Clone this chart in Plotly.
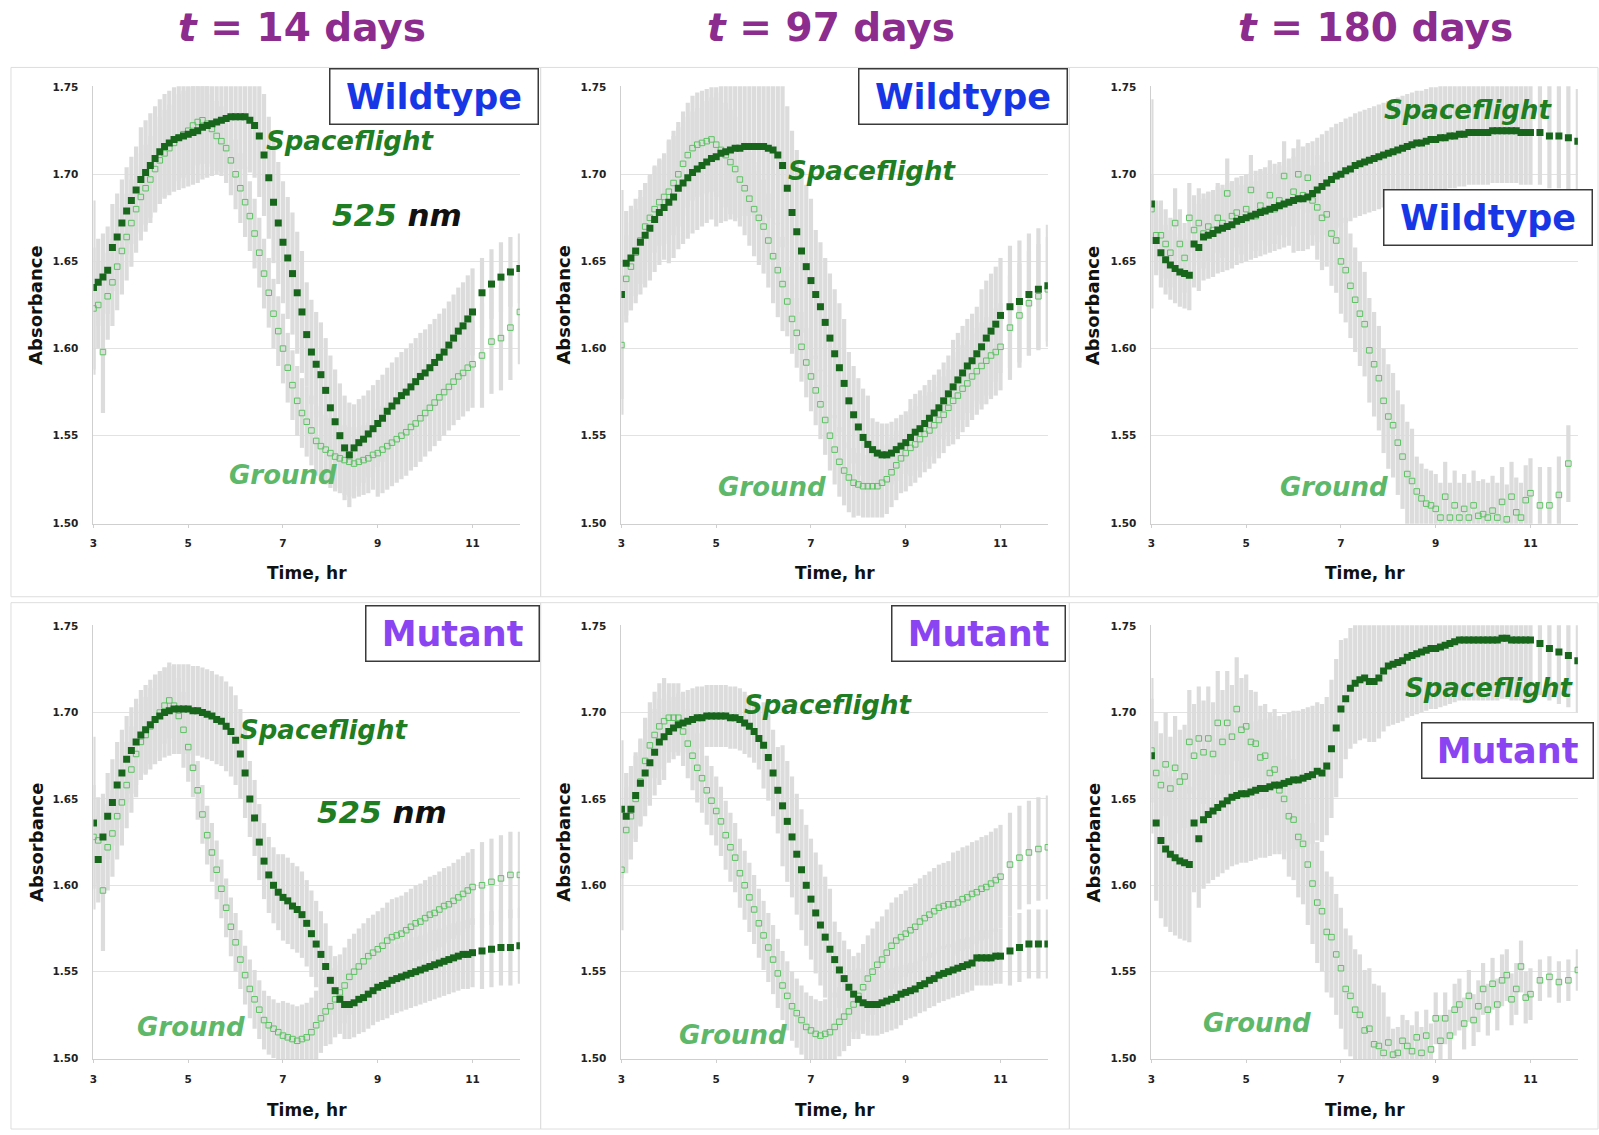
import plotly.graph_objects as go

# ---------------- data ----------------
TIME = [3.0, 3.1, 3.2, 3.3, 3.4, 3.5, 3.6, 3.7, 3.8, 3.9,
        4.0, 4.1, 4.2, 4.3, 4.4, 4.5, 4.6, 4.7, 4.8, 4.9,
        5.0, 5.1, 5.2, 5.3, 5.4, 5.5, 5.6, 5.7, 5.8, 5.9,
        6.0, 6.1, 6.2, 6.3, 6.4, 6.5, 6.6, 6.7, 6.8, 6.9,
        7.0, 7.1, 7.2, 7.3, 7.4, 7.5, 7.6, 7.7, 7.8, 7.9,
        8.0, 8.1, 8.2, 8.3, 8.4, 8.5, 8.6, 8.7, 8.8, 8.9,
        9.0, 9.1, 9.2, 9.3, 9.4, 9.5, 9.6, 9.7, 9.8, 9.9,
        10.0, 10.1, 10.2, 10.3, 10.4, 10.5, 10.6, 10.7, 10.8, 10.9,
        11.0, 11.2, 11.4, 11.6, 11.8, 12.0]

X_TICKS = [3, 5, 7, 9, 11]
Y_TICKS = [1.50, 1.55, 1.60, 1.65, 1.70, 1.75]
Y_TICKTEXT = ["1.50", "1.55", "1.60", "1.65", "1.70", "1.75"]
COLUMN_TITLES = ["14", "97", "180"]
STRAINS = ["Wildtype", "Wildtype", "Wildtype", "Mutant", "Mutant", "Mutant"]

# Panel 1: t = 14 days, Wildtype
WT14_FLIGHT = [1.635, 1.638, 1.641, 1.645, 1.658, 1.664, 1.672, 1.679, 1.685, 1.691,
               1.697, 1.701, 1.705, 1.709, 1.713, 1.716, 1.718, 1.720, 1.721, 1.722,
               1.723, 1.724, 1.725, 1.727, 1.728, 1.729, 1.730, 1.731, 1.732, 1.733,
               1.733, 1.733, 1.733, 1.731, 1.728, 1.722, 1.711, 1.698, 1.684, 1.672,
               1.661, 1.652, 1.643, 1.632, 1.621, 1.608, 1.598, 1.591, 1.585, 1.576,
               1.566, 1.558, 1.550, 1.543, 1.539, 1.543, 1.546, 1.548, 1.551, 1.554,
               1.557, 1.560, 1.564, 1.567, 1.570, 1.573, 1.575, 1.578, 1.581, 1.584,
               1.586, 1.589, 1.592, 1.595, 1.598, 1.602, 1.606, 1.610, 1.613, 1.617,
               1.621, 1.632, 1.637, 1.641, 1.644, 1.646]
WT14_FLIGHT_ERR = [.05, .025, .025, .025, .025, .025, .025, .025, .025, .025,
                   .03, .03, .03, .03, .03, .03, .03, .03, .03, .03,
                   .03, .03, .03, .03, .03, .03, .03, .03, .03, .03,
                   .03, .03, .03, .03, .03, .035, .035, .035, .035, .035,
                   .035, .035, .035, .035, .035, .03, .03, .03, .03, .03,
                   .03, .03, .03, .03, .03, .025, .025, .025, .025, .025,
                   .025, .025, .025, .025, .025, .025, .025, .025, .025, .025,
                   .025, .025, .025, .025, .025, .025, .025, .025, .025, .025,
                   .025, .02, .02, .02, .02, .02]
WT14_GROUND = [1.623, 1.625, 1.598, 1.630, 1.638, 1.647, 1.656, 1.664, 1.672, 1.680,
               1.687, 1.692, 1.697, 1.703, 1.708, 1.712, 1.715, 1.718, 1.721, 1.723,
               1.725, 1.728, 1.730, 1.731, 1.729, 1.726, 1.722, 1.719, 1.715, 1.708,
               1.700, 1.692, 1.684, 1.676, 1.666, 1.655, 1.643, 1.632, 1.620, 1.610,
               1.600, 1.589, 1.579, 1.570, 1.563, 1.558, 1.553, 1.547, 1.544, 1.542,
               1.540, 1.538, 1.537, 1.536, 1.535, 1.534, 1.535, 1.536, 1.537, 1.539,
               1.540, 1.542, 1.544, 1.546, 1.548, 1.550, 1.552, 1.555, 1.557, 1.560,
               1.563, 1.566, 1.569, 1.572, 1.575, 1.578, 1.581, 1.584, 1.586, 1.589,
               1.591, 1.596, 1.604, 1.606, 1.612, 1.621]
WT14_GROUND_ERR = [.035, .025, .035, .025, .025, .025, .025, .025, .025, .025,
                   .025, .025, .025, .025, .025, .025, .025, .025, .025, .025,
                   .025, .025, .025, .025, .025, .02, .02, .02, .02, .02,
                   .02, .02, .02, .02, .02, .02, .02, .02, .02, .02,
                   .02, .02, .02, .02, .02, .02, .02, .02, .02, .02,
                   .02, .02, .02, .02, .02, .02, .02, .02, .02, .02,
                   .025, .025, .025, .025, .025, .025, .025, .025, .025, .025,
                   .025, .025, .025, .025, .025, .025, .025, .025, .025, .025,
                   .025, .03, .03, .03, .03, .03]

# Panel 2: t = 97 days, Wildtype
WT97_FLIGHT = [1.631, 1.649, 1.652, 1.656, 1.661, 1.665, 1.669, 1.674, 1.678, 1.681,
               1.684, 1.687, 1.692, 1.695, 1.698, 1.701, 1.703, 1.705, 1.707, 1.709,
               1.710, 1.712, 1.713, 1.714, 1.715, 1.715, 1.716, 1.716, 1.716, 1.716,
               1.716, 1.715, 1.714, 1.711, 1.705, 1.692, 1.678, 1.667, 1.656, 1.647,
               1.639, 1.631, 1.624, 1.615, 1.606, 1.597, 1.589, 1.580, 1.570, 1.562,
               1.555, 1.549, 1.545, 1.542, 1.540, 1.539, 1.539, 1.540, 1.542, 1.544,
               1.546, 1.549, 1.552, 1.554, 1.557, 1.560, 1.563, 1.566, 1.570, 1.574,
               1.578, 1.582, 1.586, 1.590, 1.593, 1.597, 1.601, 1.606, 1.610, 1.614,
               1.619, 1.624, 1.627, 1.631, 1.634, 1.636]
WT97_FLIGHT_ERR = [.06, .03, .03, .03, .03, .03, .03, .03, .03, .03,
                   .035, .035, .035, .035, .035, .035, .035, .035, .035, .035,
                   .04, .04, .04, .04, .04, .04, .04, .04, .04, .04,
                   .04, .04, .04, .04, .047, .047, .047, .047, .047, .047,
                   .047, .037, .037, .037, .037, .037, .037, .037, .028, .028,
                   .028, .028, .028, .018, .018, .018, .018, .018, .018, .018,
                   .018, .022, .022, .022, .022, .022, .022, .022, .022, .022,
                   .027, .027, .027, .027, .027, .027, .033, .033, .033, .033,
                   .033, .035, .035, .035, .035, .035]
WT97_GROUND = [1.602, 1.640, 1.647, 1.655, 1.662, 1.670, 1.675, 1.680, 1.684, 1.687,
               1.690, 1.695, 1.700, 1.706, 1.711, 1.715, 1.717, 1.718, 1.719, 1.720,
               1.717, 1.714, 1.711, 1.707, 1.703, 1.697, 1.692, 1.686, 1.680, 1.675,
               1.670, 1.662, 1.653, 1.645, 1.637, 1.627, 1.617, 1.609, 1.601, 1.592,
               1.584, 1.576, 1.568, 1.559, 1.550, 1.542, 1.535, 1.530, 1.526, 1.523,
               1.522, 1.521, 1.521, 1.521, 1.521, 1.523, 1.525, 1.529, 1.533, 1.537,
               1.540, 1.543, 1.545, 1.548, 1.551, 1.553, 1.556, 1.559, 1.562, 1.566,
               1.570, 1.573, 1.577, 1.580, 1.584, 1.587, 1.590, 1.593, 1.596, 1.598,
               1.601, 1.612, 1.619, 1.626, 1.630, 1.634]
WT97_GROUND_ERR = [.04, .025, .025, .025, .025, .025, .025, .025, .025, .025,
                   .03, .03, .03, .03, .03, .03, .03, .03, .03, .03,
                   .03, .03, .03, .03, .03, .027, .027, .027, .027, .027,
                   .027, .027, .027, .027, .027, .02, .02, .02, .02, .02,
                   .02, .02, .02, .02, .02, .02, .02, .02, .02, .02,
                   .018, .018, .018, .018, .018, .02, .02, .02, .02, .02,
                   .022, .022, .022, .022, .022, .022, .022, .022, .022, .022,
                   .025, .025, .025, .025, .025, .025, .025, .025, .025, .025,
                   .025, .03, .03, .03, .03, .03]

# Panel 3: t = 180 days, Wildtype
WT180_FLIGHT = [1.683, 1.662, 1.655, 1.651, 1.648, 1.646, 1.644, 1.643, 1.642, 1.660,
                1.658, 1.664, 1.665, 1.666, 1.668, 1.669, 1.670, 1.671, 1.673, 1.674,
                1.675, 1.676, 1.677, 1.678, 1.679, 1.680, 1.681, 1.682, 1.683, 1.684,
                1.685, 1.686, 1.686, 1.687, 1.689, 1.691, 1.693, 1.695, 1.697, 1.699,
                1.700, 1.702, 1.703, 1.705, 1.706, 1.707, 1.708, 1.709, 1.710, 1.711,
                1.712, 1.713, 1.714, 1.715, 1.716, 1.717, 1.718, 1.718, 1.719, 1.720,
                1.720, 1.721, 1.721, 1.722, 1.722, 1.723, 1.723, 1.724, 1.724, 1.724,
                1.724, 1.724, 1.725, 1.725, 1.725, 1.725, 1.725, 1.725, 1.724, 1.724,
                1.724, 1.724, 1.722, 1.722, 1.721, 1.719]
WT180_FLIGHT_ERR = [.06, .02, .02, .02, .02, .02, .02, .02, .02, .025,
                    .025, .025, .025, .025, .025, .025, .025, .025, .025, .025,
                    .025, .025, .025, .025, .025, .025, .025, .025, .025, .025,
                    .03, .03, .03, .03, .03, .03, .03, .03, .03, .03,
                    .03, .03, .03, .03, .03, .03, .03, .03, .03, .03,
                    .03, .03, .03, .03, .03, .03, .03, .03, .03, .03,
                    .03, .03, .03, .03, .03, .03, .03, .03, .03, .03,
                    .03, .03, .03, .03, .03, .03, .03, .03, .03, .03,
                    .03, .03, .03, .03, .03, .03]
WT180_GROUND = [1.680, 1.665, 1.665, 1.660, 1.655, 1.672, 1.660, 1.652, 1.675, 1.668,
                1.672, 1.666, 1.670, 1.668, 1.675, 1.672, 1.689, 1.676, 1.678, 1.674,
                1.680, 1.691, 1.676, 1.682, 1.679, 1.688, 1.680, 1.685, 1.699, 1.684,
                1.690, 1.700, 1.688, 1.698, 1.685, 1.681, 1.675, 1.677, 1.666, 1.662,
                1.650, 1.645, 1.636, 1.628, 1.620, 1.614, 1.599, 1.591, 1.583, 1.570,
                1.561, 1.556, 1.546, 1.538, 1.528, 1.524, 1.518, 1.514, 1.511, 1.510,
                1.508, 1.503, 1.515, 1.503, 1.510, 1.503, 1.508, 1.503, 1.510, 1.504,
                1.505, 1.503, 1.507, 1.503, 1.512, 1.502, 1.515, 1.506, 1.503, 1.513,
                1.517, 1.510, 1.510, 1.516, 1.534, None]
WT180_GROUND_ERR = [.02, .02, .02, .02, .02, .02, .02, .02, .02, .02,
                    .02, .02, .02, .02, .02, .02, .02, .02, .02, .02,
                    .02, .02, .02, .02, .02, .02, .02, .02, .02, .02,
                    .02, .02, .02, .02, .02, .03, .03, .03, .03, .03,
                    .03, .03, .03, .03, .03, .03, .03, .03, .03, .03,
                    .03, .03, .03, .03, .03, .03, .02, .02, .02, .02,
                    .02, .02, .02, .02, .02, .02, .02, .02, .02, .02,
                    .02, .02, .02, .02, .02, .02, .02, .02, .02, .02,
                    .02, .022, .022, .022, .022, .022]

# Panel 4: t = 14 days, Mutant
MU14_FLIGHT = [1.636, 1.615, 1.628, 1.640, 1.648, 1.658, 1.665, 1.673, 1.678, 1.683,
               1.687, 1.690, 1.693, 1.696, 1.698, 1.700, 1.701, 1.702, 1.702, 1.702,
               1.702, 1.701, 1.701, 1.700, 1.699, 1.698, 1.696, 1.695, 1.692, 1.689,
               1.684, 1.676, 1.665, 1.650, 1.639, 1.625, 1.614, 1.606, 1.600, 1.596,
               1.593, 1.591, 1.588, 1.586, 1.583, 1.578, 1.572, 1.566, 1.560, 1.553,
               1.545, 1.539, 1.534, 1.531, 1.531, 1.532, 1.534, 1.535, 1.537, 1.539,
               1.541, 1.542, 1.543, 1.545, 1.546, 1.547, 1.548, 1.549, 1.550, 1.551,
               1.552, 1.553, 1.554, 1.555, 1.556, 1.557, 1.558, 1.559, 1.560, 1.560,
               1.561, 1.562, 1.563, 1.564, 1.564, 1.565]
MU14_FLIGHT_ERR = [.05, .025, .025, .025, .025, .025, .025, .025, .025, .025,
                   .026, .026, .026, .026, .026, .026, .026, .026, .026, .026,
                   .026, .026, .026, .026, .026, .026, .026, .026, .026, .026,
                   .026, .026, .026, .022, .022, .022, .022, .022, .022, .022,
                   .025, .025, .025, .025, .025, .025, .025, .025, .025, .025,
                   .02, .02, .02, .02, .02, .02, .02, .02, .02, .02,
                   .02, .02, .02, .02, .02, .02, .02, .02, .02, .02,
                   .02, .02, .02, .02, .02, .02, .02, .02, .02, .02,
                   .02, .022, .022, .022, .022, .022]
MU14_GROUND = [1.628, 1.626, 1.597, 1.622, 1.630, 1.640, 1.648, 1.658, 1.667, 1.676,
               1.683, 1.687, 1.692, 1.696, 1.700, 1.704, 1.707, 1.704, 1.698, 1.690,
               1.680, 1.668, 1.655, 1.641, 1.629, 1.619, 1.609, 1.598, 1.587, 1.576,
               1.567, 1.557, 1.548, 1.540, 1.534, 1.528, 1.522, 1.519, 1.517, 1.515,
               1.513, 1.512, 1.511, 1.510, 1.511, 1.512, 1.515, 1.519, 1.523, 1.527,
               1.530, 1.534, 1.538, 1.542, 1.547, 1.550, 1.553, 1.556, 1.559, 1.561,
               1.563, 1.565, 1.568, 1.570, 1.571, 1.572, 1.574, 1.576, 1.578, 1.579,
               1.581, 1.583, 1.584, 1.586, 1.588, 1.589, 1.591, 1.593, 1.595, 1.597,
               1.599, 1.600, 1.602, 1.604, 1.606, 1.606]
MU14_GROUND_ERR = [.03, .025, .035, .025, .025, .025, .025, .025, .025, .025,
                   .022, .022, .022, .022, .022, .022, .022, .022, .022, .022,
                   .02, .017, .017, .017, .017, .017, .017, .017, .017, .017,
                   .017, .017, .017, .017, .017, .017, .017, .017, .017, .017,
                   .02, .02, .02, .02, .02, .02, .02, .02, .02, .02,
                   .022, .022, .022, .022, .022, .022, .022, .022, .022, .022,
                   .022, .022, .022, .022, .022, .022, .022, .022, .022, .022,
                   .022, .022, .022, .022, .022, .022, .022, .022, .022, .022,
                   .022, .025, .025, .025, .025, .025]

# Panel 5: t = 97 days, Mutant
MU97_FLIGHT = [1.644, 1.640, 1.644, 1.652, 1.659, 1.665, 1.671, 1.677, 1.683, 1.686,
               1.689, 1.691, 1.693, 1.694, 1.695, 1.696, 1.697, 1.697, 1.698, 1.698,
               1.698, 1.698, 1.698, 1.697, 1.697, 1.696, 1.694, 1.692, 1.689, 1.685,
               1.681, 1.674, 1.665, 1.655, 1.646, 1.637, 1.628, 1.618, 1.609, 1.600,
               1.592, 1.584, 1.577, 1.570, 1.563, 1.557, 1.551, 1.546, 1.541, 1.537,
               1.534, 1.532, 1.531, 1.531, 1.531, 1.532, 1.533, 1.534, 1.535, 1.537,
               1.538, 1.539, 1.540, 1.542, 1.543, 1.545, 1.546, 1.548, 1.549, 1.550,
               1.551, 1.552, 1.553, 1.554, 1.555, 1.558, 1.558, 1.558, 1.558, 1.559,
               1.559, 1.562, 1.564, 1.566, 1.566, 1.566]
MU97_FLIGHT_ERR = [.04, .025, .025, .025, .025, .025, .025, .025, .025, .025,
                   .018, .018, .018, .018, .018, .018, .018, .018, .018, .018,
                   .018, .018, .018, .018, .018, .018, .018, .018, .018, .018,
                   .025, .025, .025, .025, .035, .035, .035, .035, .035, .035,
                   .035, .035, .035, .035, .035, .022, .022, .022, .022, .022,
                   .018, .018, .018, .018, .018, .018, .018, .018, .018, .018,
                   .016, .016, .016, .016, .016, .016, .016, .016, .016, .016,
                   .016, .016, .016, .016, .016, .016, .016, .016, .016, .016,
                   .016, .02, .02, .02, .02, .02]
MU97_GROUND = [1.609, 1.632, 1.640, 1.650, 1.660, 1.672, 1.681, 1.687, 1.692, 1.695,
               1.697, 1.697, 1.697, 1.689, 1.682, 1.675, 1.668, 1.662, 1.655, 1.649,
               1.643, 1.637, 1.629, 1.622, 1.616, 1.607, 1.600, 1.593, 1.586, 1.578,
               1.571, 1.564, 1.557, 1.549, 1.542, 1.536, 1.530, 1.526, 1.522, 1.518,
               1.516, 1.514, 1.513, 1.514, 1.515, 1.518, 1.521, 1.524, 1.527, 1.531,
               1.536, 1.541, 1.546, 1.550, 1.554, 1.557, 1.561, 1.565, 1.568, 1.570,
               1.572, 1.574, 1.576, 1.579, 1.581, 1.583, 1.585, 1.587, 1.588, 1.589,
               1.589, 1.590, 1.592, 1.593, 1.595, 1.596, 1.598, 1.599, 1.601, 1.603,
               1.605, 1.612, 1.616, 1.619, 1.621, 1.622]
MU97_GROUND_ERR = [.035, .025, .025, .025, .025, .025, .025, .025, .025, .025,
                   .02, .02, .02, .02, .02, .02, .02, .02, .02, .02,
                   .02, .02, .02, .02, .02, .02, .02, .02, .02, .02,
                   .02, .02, .02, .02, .02, .02, .02, .02, .02, .02,
                   .02, .02, .02, .02, .02, .02, .02, .02, .02, .02,
                   .025, .025, .025, .025, .025, .025, .025, .025, .025, .025,
                   .025, .025, .025, .025, .025, .025, .025, .025, .025, .025,
                   .03, .03, .03, .03, .03, .03, .03, .03, .03, .03,
                   .03, .03, .03, .03, .03, .03]

# Panel 6: t = 180 days, Mutant
MU180_FLIGHT = [1.675, 1.636, 1.626, 1.621, 1.618, 1.616, 1.614, 1.613, 1.612, 1.636,
                1.627, 1.638, 1.641, 1.643, 1.645, 1.647, 1.649, 1.651, 1.652, 1.653,
                1.653, 1.654, 1.655, 1.656, 1.656, 1.657, 1.658, 1.658, 1.659, 1.660,
                1.661, 1.661, 1.662, 1.663, 1.664, 1.666, 1.665, 1.669, 1.679, 1.691,
                1.702, 1.708, 1.714, 1.717, 1.719, 1.720, 1.718, 1.718, 1.720, 1.724,
                1.727, 1.728, 1.729, 1.730, 1.732, 1.733, 1.734, 1.735, 1.736, 1.737,
                1.737, 1.738, 1.739, 1.740, 1.741, 1.742, 1.742, 1.742, 1.742, 1.742,
                1.742, 1.742, 1.742, 1.742, 1.743, 1.743, 1.742, 1.742, 1.742, 1.742,
                1.742, 1.740, 1.737, 1.735, 1.733, 1.730]
MU180_FLIGHT_ERR = [.045, .045, .045, .045, .045, .045, .045, .045, .045, .04,
                    .04, .04, .04, .04, .04, .04, .04, .04, .04, .04,
                    .04, .04, .04, .04, .04, .04, .04, .04, .04, .04,
                    .04, .04, .04, .04, .04, .04, .04, .04, .04, .04,
                    .04, .035, .035, .035, .035, .035, .035, .035, .035, .035,
                    .035, .035, .035, .035, .035, .035, .035, .035, .035, .035,
                    .035, .035, .035, .035, .035, .035, .035, .035, .035, .035,
                    .035, .035, .035, .035, .035, .035, .035, .035, .035, .035,
                    .035, .03, .03, .03, .03, .03]
MU180_GROUND = [1.678, 1.665, 1.658, 1.670, 1.656, 1.668, 1.660, 1.663, 1.683, 1.675,
                1.685, 1.677, 1.685, 1.676, 1.694, 1.683, 1.694, 1.686, 1.702, 1.690,
                1.692, 1.683, 1.682, 1.674, 1.675, 1.665, 1.667, 1.655, 1.650, 1.640,
                1.638, 1.628, 1.624, 1.612, 1.601, 1.590, 1.585, 1.573, 1.570, 1.560,
                1.552, 1.540, 1.536, 1.528, 1.525, 1.516, 1.517, 1.508, 1.507, 1.503,
                1.509, 1.502, 1.503, 1.510, 1.507, 1.504, 1.512, 1.503, 1.513, 1.505,
                1.523, 1.510, 1.523, 1.513, 1.528, 1.531, 1.520, 1.536, 1.522, 1.530,
                1.540, 1.528, 1.543, 1.531, 1.545, 1.548, 1.534, 1.540, 1.553, 1.535,
                1.537, 1.545, 1.547, 1.544, 1.545, 1.551]
MU180_GROUND_ERR = [.03, .03, .03, .03, .03, .03, .03, .03, .03, .03,
                    .03, .03, .03, .03, .03, .03, .03, .03, .03, .03,
                    .03, .03, .03, .03, .03, .035, .035, .035, .035, .035,
                    .035, .035, .035, .035, .035, .035, .035, .035, .035, .035,
                    .035, .035, .035, .035, .035, .035, .035, .035, .035, .035,
                    .015, .015, .015, .015, .015, .015, .015, .015, .015, .015,
                    .015, .015, .015, .015, .015, .015, .015, .015, .015, .015,
                    .015, .015, .015, .015, .015, .015, .015, .015, .015, .015,
                    .015, .012, .012, .012, .012, .012]

PANELS = [
    (WT14_FLIGHT, WT14_FLIGHT_ERR, WT14_GROUND, WT14_GROUND_ERR),
    (WT97_FLIGHT, WT97_FLIGHT_ERR, WT97_GROUND, WT97_GROUND_ERR),
    (WT180_FLIGHT, WT180_FLIGHT_ERR, WT180_GROUND, WT180_GROUND_ERR),
    (MU14_FLIGHT, MU14_FLIGHT_ERR, MU14_GROUND, MU14_GROUND_ERR),
    (MU97_FLIGHT, MU97_FLIGHT_ERR, MU97_GROUND, MU97_GROUND_ERR),
    (MU180_FLIGHT, MU180_FLIGHT_ERR, MU180_GROUND, MU180_GROUND_ERR),
]

# ---------------- layout geometry (pixels) ----------------
W, H = 1599, 1135
FONT = "Verdana, DejaVu Sans, sans-serif"
COL_X = [(89.7, 517.2), (619.0, 1046.5), (1150.3, 1577.8)]
ROW_Y = [(82.0, 523.3), (625.8, 1063.3)]
FRAMES_X = [(7, 538), (538, 1068), (1068, 1598)]
FRAMES_Y = [(63, 597), (603, 1134)]

DARK = "#17661c"
LIGHT = "#5cc262"
FLIGHT_TXT = "#1f7d22"
GROUND_TXT = "#5db86a"
ERR_COL = "#dcdcdc"


def px(x):
    return x / W


def py(y):
    return 1 - y / H


fig = go.Figure()
layout_axes = {}

for i, (fl, fl_err, gr, gr_err) in enumerate(PANELS):
    r, c = divmod(i, 3)
    n = i + 1
    xa = "x" if n == 1 else f"x{n}"
    ya = "y" if n == 1 else f"y{n}"
    common = dict(xaxis=xa, yaxis=ya, hoverinfo="skip", showlegend=False)
    # error bars first (beneath all markers)
    fig.add_trace(go.Scatter(x=TIME, y=gr, mode="markers",
                             marker=dict(size=1, color="rgba(0,0,0,0)"),
                             error_y=dict(type="data", array=gr_err, color=ERR_COL,
                                          thickness=4.2, width=0), **common))
    fig.add_trace(go.Scatter(x=TIME, y=fl, mode="markers",
                             marker=dict(size=1, color="rgba(0,0,0,0)"),
                             error_y=dict(type="data", array=fl_err, color=ERR_COL,
                                          thickness=4.2, width=0), **common))
    fig.add_trace(go.Scatter(x=TIME, y=gr, mode="markers", name="Ground",
                             marker=dict(symbol="square-open", size=5.5, color=LIGHT,
                                         line=dict(width=1, color=LIGHT)), **common))
    fig.add_trace(go.Scatter(x=TIME, y=fl, mode="markers", name="Spaceflight",
                             marker=dict(symbol="square", size=7, color=DARK), **common))

    x0, x1 = COL_X[c]
    y0, y1 = ROW_Y[r]
    key = "" if n == 1 else str(n)
    layout_axes[f"xaxis{key}"] = dict(
        domain=[px(x0), px(x1)], anchor=ya, range=[3, 12], tickvals=X_TICKS,
        showgrid=False, zeroline=False, showline=True, linecolor="#cfcfcf", linewidth=1,
        ticks="outside", ticklen=3, tickcolor="#cfcfcf", ticklabelstandoff=7,
        tickfont=dict(family=FONT, size=10.5, color="#222", weight="bold"), fixedrange=True)
    layout_axes[f"yaxis{key}"] = dict(
        domain=[py(y1), py(y0)], anchor=xa, range=[1.4995, 1.7505],
        tickvals=Y_TICKS, ticktext=Y_TICKTEXT,
        showgrid=True, gridcolor="#e2e2e2", gridwidth=1, zeroline=False,
        showline=True, linecolor="#cfcfcf", linewidth=1, ticks="",
        ticklabelstandoff=12,
        tickfont=dict(family=FONT, size=10.5, color="#222", weight="bold"), fixedrange=True)

fig.update_layout(**layout_axes)

shapes = []
for r in range(2):
    for c in range(3):
        fx0, fx1 = FRAMES_X[c]
        fy0, fy1 = FRAMES_Y[r]
        shapes.append(dict(type="rect", xref="paper", yref="paper",
                           x0=px(fx0), x1=px(fx1), y0=py(fy1), y1=py(fy0),
                           line=dict(color="#dedede", width=1), layer="below"))

ann = []


def add_text(x, y, text, size, color, angle=0):
    ann.append(dict(x=px(x), y=py(y), xref="paper", yref="paper", text=text,
                    showarrow=False, xanchor="center", yanchor="middle",
                    textangle=angle, font=dict(family=FONT, size=size, color=color)))


# column titles
for (cx, days) in zip([299, 829, 1375], COLUMN_TITLES):
    add_text(cx, 23, f"<b><i>t</i> = {days} days</b>", 39, "#8b2c8e")

# axis titles
for r in range(2):
    ymid = (ROW_Y[r][0] + ROW_Y[r][1]) / 2
    for c, ax_x in enumerate([32, 561, 1092]):
        add_text(ax_x, ymid, "<b>Absorbance</b>", 18, "#111", angle=-90)
        xmid = (COL_X[c][0] + COL_X[c][1]) / 2
        add_text(xmid, 573 if r == 0 else 1115, "<b>Time, hr</b>", 17, "#111")

# strain boxes
BOXES = [(431.5, 92, 205), (961, 92, 205), (1488, 214, 205),
         (450, 634, 170), (977, 634, 170), (1507, 752, 168)]
for (bx, by, bw), strain in zip(BOXES, STRAINS):
    col = "#1736e6" if strain == "Wildtype" else "#8a44f2"
    ann.append(dict(x=px(bx), y=py(by), xref="paper", yref="paper",
                    text=f"<b>{strain}</b>", showarrow=False, xanchor="center",
                    yanchor="middle", width=bw, height=52, align="center",
                    bgcolor="white", bordercolor="#3a3a3a", borderwidth=1.5, borderpad=1,
                    font=dict(family=FONT, size=35, color=col)))

# series labels
FLIGHT_POS = [(347, 137), (870, 167), (1468, 106), (321, 731), (826, 706), (1489, 689)]
GROUND_POS = [(280, 474), (770, 486), (1333, 486), (187, 1031), (731, 1039), (1256, 1027)]
for (fx, fy) in FLIGHT_POS:
    add_text(fx, fy, "<b><i>Spaceflight</i></b>", 26, FLIGHT_TXT)
for (gx, gy) in GROUND_POS:
    add_text(gx, gy, "<b><i>Ground</i></b>", 26, GROUND_TXT)
for (wx, wy) in [(394, 212), (379, 814)]:
    add_text(wx, wy, f"<b><i><span style='color:{FLIGHT_TXT}'>525</span> nm</i></b>", 31, "#111")

fig.update_layout(width=W, height=H, margin=dict(l=0, r=0, t=0, b=0),
                  paper_bgcolor="white", plot_bgcolor="white",
                  shapes=shapes, annotations=ann, showlegend=False)

fig.write_html("out.html", config={"displayModeBar": False},
               post_script="document.body.style.margin='0';document.body.style.overflow='hidden';")
